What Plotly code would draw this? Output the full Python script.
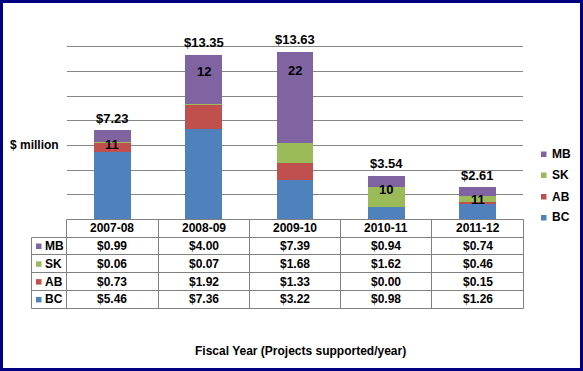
import math
import plotly.graph_objects as go

# ---------------- data ----------------
categories = ["2007-08", "2008-09", "2009-10", "2010-11", "2011-12"]
series_names = ["BC", "AB", "SK", "MB"]
bc = [5.46, 7.36, 3.22, 0.98, 1.26]
ab = [0.73, 1.92, 1.33, 0.00, 0.15]
sk = [0.06, 0.07, 1.68, 1.62, 0.46]
mb = [0.99, 4.00, 7.39, 0.94, 0.74]
totals = [7.23, 13.35, 13.63, 3.54, 2.61]
projects = [11, 12, 22, 10, 11]
y_axis_label = "$ million"
x_axis_title = "Fiscal Year (Projects supported/year)"

series_values = {"BC": bc, "AB": ab, "SK": sk, "MB": mb}
colors = {"BC": "#4F81BD", "AB": "#C0504D", "SK": "#9BBB59", "MB": "#8064A2"}

# ---------------- geometry helpers ----------------
W, H = 583, 371
def px(x):
    return x / W
def py(y):
    return 1 - y / H
def crisp(v):
    return math.floor(v) + 0.5

PLOT_L, PLOT_R = 66.7, 523.3
PLOT_T, PLOT_B = 22.3, 219.3
KEY_L = 31.7
ROW_H = 17.8
n = len(categories)
col_edges = [PLOT_L + k * (PLOT_R - PLOT_L) / n for k in range(n + 1)]
col_centers = [(col_edges[k] + col_edges[k + 1]) / 2 for k in range(n)]

FONT = "Arial, 'Liberation Sans', sans-serif"
GRID = "#868686"
TBL = "#808080"

fig = go.Figure()
for name in series_names:
    fig.add_trace(go.Bar(
        x=categories, y=series_values[name], name=name,
        marker=dict(color=colors[name], line=dict(width=0)),
        showlegend=False, hoverinfo="skip",
    ))

annotations = []
shapes = []

# total labels above bars
for c, t in zip(categories, totals):
    annotations.append(dict(x=c, y=t, xref="x", yref="y", text=f"${t:.2f}",
                            showarrow=False, yanchor="middle", yshift=12,
                            font=dict(family=FONT, size=13, color="black", weight="bold")))

# project counts inside bars
count_label_y = [6.1, 12.0, 12.1, 2.45, 1.57]
for c, p, yy in zip(categories, projects, count_label_y):
    annotations.append(dict(x=c, y=yy, xref="x", yref="y", text=str(p),
                            showarrow=False, yanchor="middle",
                            font=dict(family=FONT, size=13, color="black", weight="bold")))

# y axis label
annotations.append(dict(x=px(60.7), y=6, xref="paper", yref="y", text=y_axis_label,
                        showarrow=False, xanchor="right", yanchor="middle",
                        font=dict(family=FONT, size=12, color="black", weight="bold")))

# x axis title
annotations.append(dict(x=px(300.5), y=py(351), xref="paper", yref="paper", text=x_axis_title,
                        showarrow=False, xanchor="center", yanchor="middle",
                        font=dict(family=FONT, size=12, color="black", weight="bold")))

# ---------------- data table ----------------
row_names = list(reversed(series_names))  # MB, SK, AB, BC
row_edges = [PLOT_B + k * ROW_H for k in range(len(row_names) + 2)]
tbl_font = dict(family=FONT, size=12, color="black", weight="bold")

# horizontal lines
shapes.append(dict(type="line", xref="paper", yref="paper",
                   x0=px(crisp(PLOT_L)), x1=px(crisp(PLOT_R)),
                   y0=py(crisp(row_edges[0])), y1=py(crisp(row_edges[0])),
                   line=dict(color=TBL, width=1)))
for r in row_edges[1:]:
    shapes.append(dict(type="line", xref="paper", yref="paper",
                       x0=px(crisp(KEY_L)), x1=px(crisp(PLOT_R)),
                       y0=py(crisp(r)), y1=py(crisp(r)),
                       line=dict(color=TBL, width=1)))
# vertical lines
shapes.append(dict(type="line", xref="paper", yref="paper",
                   x0=px(crisp(KEY_L)), x1=px(crisp(KEY_L)),
                   y0=py(crisp(row_edges[1])), y1=py(crisp(row_edges[-1])),
                   line=dict(color=TBL, width=1)))
for e in col_edges:
    shapes.append(dict(type="line", xref="paper", yref="paper",
                       x0=px(crisp(e)), x1=px(crisp(e)),
                       y0=py(crisp(row_edges[0])), y1=py(crisp(row_edges[-1])),
                       line=dict(color=TBL, width=1)))

# header texts
for c, cx in zip(categories, col_centers):
    annotations.append(dict(x=px(cx), y=py((row_edges[0] + row_edges[1]) / 2),
                            xref="paper", yref="paper", text=c, showarrow=False,
                            xanchor="center", yanchor="middle", font=tbl_font))
# body rows
for ri, name in enumerate(row_names):
    yc = (row_edges[ri + 1] + row_edges[ri + 2]) / 2
    # key square
    shapes.append(dict(type="rect", xref="paper", yref="paper",
                       x0=px(36), x1=px(41.5), y0=py(yc - 2.5), y1=py(yc + 3),
                       fillcolor=colors[name], line=dict(width=0)))
    annotations.append(dict(x=px(42.5), y=py(yc), xref="paper", yref="paper",
                            text=name, showarrow=False, xanchor="left", yanchor="middle",
                            font=tbl_font))
    for v, cx in zip(series_values[name], col_centers):
        annotations.append(dict(x=px(cx), y=py(yc), xref="paper", yref="paper",
                                text=f"${v:.2f}", showarrow=False,
                                xanchor="center", yanchor="middle", font=tbl_font))

# ---------------- custom legend ----------------
leg_y = [154, 175, 196.5, 217.5]
for name, yc in zip(row_names, leg_y):
    shapes.append(dict(type="rect", xref="paper", yref="paper",
                       x0=px(541), x1=px(546.5), y0=py(yc - 2.5), y1=py(yc + 3),
                       fillcolor=colors[name], line=dict(width=0)))
    annotations.append(dict(x=px(550), y=py(yc), xref="paper", yref="paper",
                            text=name, showarrow=False, xanchor="left", yanchor="middle",
                            font=dict(family=FONT, size=12, color="black", weight="bold")))

# outer border
shapes.append(dict(type="rect", xref="paper", yref="paper",
                   x0=px(1.5), x1=px(W - 1.5), y0=py(H - 1.5), y1=py(1.5),
                   line=dict(color="#000080", width=3), fillcolor="rgba(0,0,0,0)"))

fig.update_layout(
    width=W, height=H,
    margin=dict(l=0, r=0, t=0, b=0),
    paper_bgcolor="white", plot_bgcolor="white",
    barmode="stack", bargap=0.6,
    showlegend=False,
    xaxis=dict(domain=[px(PLOT_L), px(PLOT_R)], range=[-0.5, n - 0.5], type="category",
               showticklabels=False, showgrid=False, zeroline=False, showline=False, ticks=""),
    yaxis=dict(domain=[py(PLOT_B), py(PLOT_T)], range=[0, 16], dtick=2,
               showgrid=True, gridcolor=GRID, gridwidth=1, showticklabels=False,
               zeroline=False, showline=False, ticks=""),
    annotations=annotations,
    shapes=shapes,
    font=dict(family=FONT),
)

fig.write_html(
    "out.html",
    config={"staticPlot": True},
    post_script="document.body.style.margin='0';document.body.style.padding='0';",
)
